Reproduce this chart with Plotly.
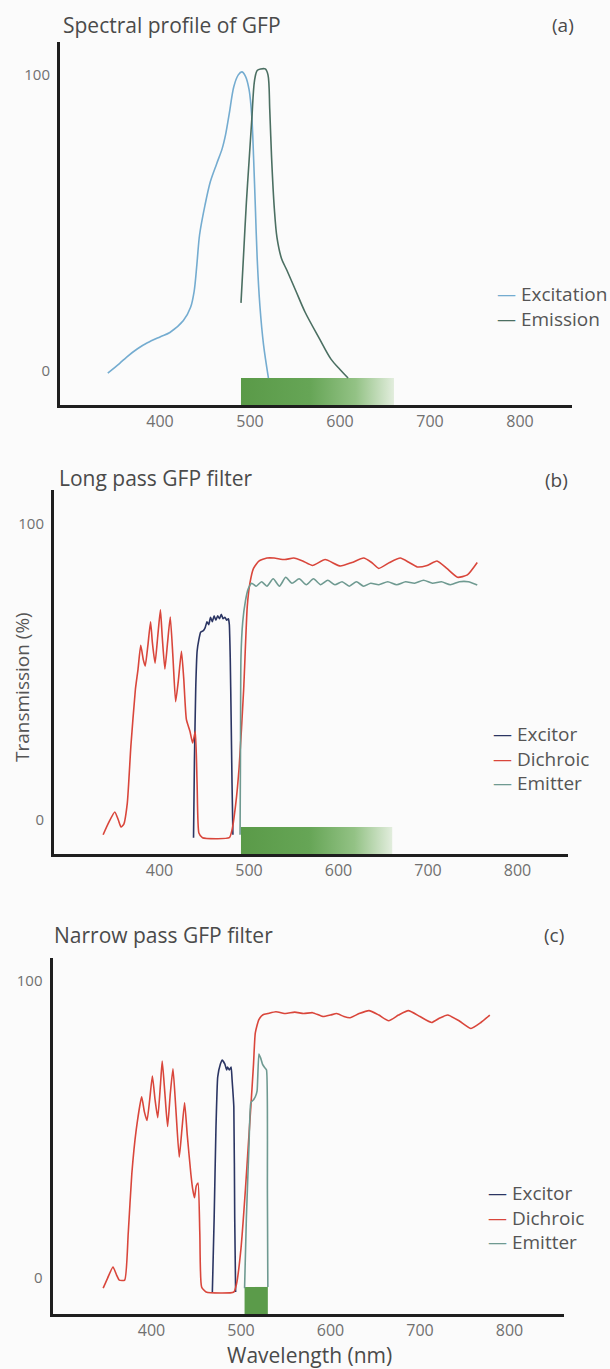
import plotly.graph_objects as go

W, H = 610, 1369

# ---------------- data ----------------
# (a) Spectral profile of GFP
exc_nm = [342, 355, 363, 375, 386, 400, 411, 426, 434, 438, 441, 444, 450, 456, 463, 469, 473, 477,
          482, 487, 491, 495, 499, 502, 504, 506, 508, 511, 515, 520.5]
exc_val = [-0.7, 2.5, 4.7, 7.5, 9.5, 11.5, 13, 17, 21.5, 27, 36, 46, 56, 64, 70, 75, 80, 87,
           96, 100, 101, 99.5, 95, 86, 72, 55, 38, 22, 9, -2.4]
emi_nm = [490, 493, 496, 499, 502, 505, 508, 512, 517, 520, 522, 524, 527, 530, 535, 541, 551,
          561, 577, 590, 600, 609]
emi_val = [23, 40, 57, 71, 85, 98, 101.5, 102, 102, 100, 88, 72, 55, 45, 38, 34, 27,
           20, 11, 4, 0.5, -2.4]
band_a = [490, 660]

# (b) Long pass GFP filter
exb_nm = [438, 439, 440.5, 442, 444, 446, 449, 451, 453, 455, 457, 459, 461, 463, 465, 467, 469,
          471, 473, 475, 477, 478, 479, 480, 481, 482]
exb_val = [-6, 20, 45, 57, 61, 63.5, 64, 65, 67, 66, 68.5, 67, 69, 67.5, 69, 68, 69.5,
           68, 68.5, 67.5, 68, 66, 55, 35, 12.5, -5]
dib_nm = [337, 343, 350, 354, 357, 360, 364, 368, 373, 376, 379, 382, 384, 387, 390, 392, 395,
          398, 401, 403, 406, 409, 412, 415, 418, 421, 424.5, 427, 430, 434, 437, 440, 442,
          444, 448, 478, 481, 485, 489, 494, 498, 501, 505, 511, 520, 528, 540, 550, 560, 571,
          585, 602, 615, 628, 637, 645, 657, 669, 679, 688, 699, 710, 721, 733, 744, 755]
dib_val = [-5, -1, 2.7, 0, -2.4, -1.5, 5.7, 25, 44, 51, 59, 54, 52, 59, 67, 60, 53,
           62, 71, 62, 51, 60, 68.6, 55, 40, 47, 57, 48, 34, 30, 26, 30, 12,
           -4.4, -6, -6, -3.4, 5, 18, 44, 72, 80, 85, 87.5, 88.5, 88.5, 88, 88.5, 87.5, 86,
           88, 85.8, 87, 88.5, 87, 85, 87, 88.5, 87, 85.5, 86, 87.5, 85, 82, 82.8, 87]
emb_nm = [490, 490.5, 491, 493, 496, 499, 503, 508, 514, 520, 527, 534, 541, 548, 556, 564, 572,
          580, 588, 596, 604, 612, 620, 628, 636, 645, 655, 665, 675, 685, 695, 705, 715, 725,
          735, 745, 755]
emb_val = [-5, 25, 55, 67, 74, 78, 80, 79, 80.5, 79, 81.5, 79, 82, 80, 81.5, 79.5, 81.5,
           79.5, 81, 79.5, 80.5, 79, 80.5, 79, 80, 79.5, 80.5, 79.5, 80.5, 80, 81, 80, 80.5, 79.5,
           80.5, 80.5, 79.4]
band_b = [491, 660]

# (c) Narrow pass GFP filter
exc_c_nm = [468, 470, 472, 474, 477, 479, 482, 484, 485, 487, 489, 490, 492, 493, 494]
exc_c_val = [-4.7, 20, 50, 67.7, 72, 73.4, 72, 70, 71, 70, 71, 67, 57.6, 20, -4.7]
dic_nm = [346, 351, 357, 361, 364, 370, 374, 378, 383, 389, 392, 395, 398, 401, 404, 407, 410,
          412, 415, 418, 421, 424, 427, 431, 434, 437, 440, 444, 446, 448, 450, 452, 454, 456,
          461, 492, 495, 500, 505, 508, 511, 514, 516, 520, 524.6, 530, 539, 550, 560, 570,
          580, 591.6, 600, 607, 615, 622, 632, 643, 654, 665, 676, 687, 700, 713, 722, 731,
          744, 757, 768, 778]
dic_val = [-3.4, 0, 3.7, 1, -0.7, -0.7, 15, 35, 50, 61, 56, 53, 60, 68, 60, 54, 65,
           73, 62, 51, 62, 70.4, 58, 40.7, 50, 59, 48, 35, 30, 27, 31, 32, 15, -3,
           -4.7, -4.7, -2, 10, 30, 44, 57.6, 72, 82.5, 87, 88.6, 89, 89.6, 89, 89.5, 89,
           89.3, 88, 88.5, 89, 88, 87.6, 89, 90, 88.5, 86.6, 88.5, 90, 88, 86, 87.5, 88.5,
           86.5, 84, 86, 88.5]
emc_nm = [504, 506, 509, 511, 514, 516, 518, 520, 522, 524, 526, 528.5, 529.5, 530]
emc_val = [-3.4, 20, 45, 59, 60, 61, 63, 75.4, 74, 72, 71, 70, 30, -3]
band_c = [504, 530]

x_ticks = [400, 500, 600, 700, 800]
y_ticks = [0, 100]

# ---------------- styles ----------------
C_EXC = "#74acd0"
C_EMI = "#4b6f62"
C_EXCITOR = "#2b3563"
C_DICH = "#d9463b"
C_EMIT = "#6f9a91"
AXIS = "#1e1e1e"
TXT = "#4a4a4a"
LEG_TXT = "#555555"
FONT = "Open Sans"

def px_x(p):
    return p / W

def px_y(p):
    return 1 - p / H

# panel geometry in pixels: (left, right), (top, bottom), data ranges
panels = {
    "a": dict(xd=(60, 572), yd=(42, 405), xr=(288.9, 857.8), yr=(-11.5, 111.1)),
    "b": dict(xd=(54, 568), yd=(490, 854), xr=(282.1, 856.4), yr=(-11.5, 111.5)),
    "c": dict(xd=(52.5, 564), yd=(958, 1314), xr=(289.4, 860.9), yr=(-12.1, 107.7)),
}
axes_ids = {"a": ("x", "y"), "b": ("x2", "y2"), "c": ("x3", "y3")}

fig = go.Figure()

def band_trace(band, top, panel, gradient):
    xa, ya = axes_ids[panel]
    bottom = panels[panel]["yr"][0]
    x0, x1 = band
    kw = dict(x=[x0, x1, x1, x0, x0], y=[bottom, bottom, top, top, bottom],
              mode="lines", line=dict(width=0), fill="toself",
              hoverinfo="skip", showlegend=False, xaxis=xa, yaxis=ya)
    if gradient:
        kw["fillgradient"] = dict(type="horizontal",
                                  colorscale=[[0, "#5a9a48"], [0.45, "#66a556"],
                                              [0.75, "#93c285"], [1, "#e2eddd"]])
    else:
        kw["fillcolor"] = "#5b9b4a"
    return go.Scatter(**kw)

fig.add_trace(band_trace(band_a, -2.4, "a", True))
fig.add_trace(band_trace(band_b, -2.4, "b", True))
fig.add_trace(band_trace(band_c, -3.0, "c", False))

series = [
    ("a", exc_nm, exc_val, "Excitation", C_EXC, 0.9),
    ("a", emi_nm, emi_val, "Emission", C_EMI, 0.9),
    ("b", exb_nm, exb_val, "Excitor", C_EXCITOR, 0.4),
    ("b", dib_nm, dib_val, "Dichroic", C_DICH, 0.5),
    ("b", emb_nm, emb_val, "Emitter", C_EMIT, 0.6),
    ("c", exc_c_nm, exc_c_val, "Excitor", C_EXCITOR, 0.4),
    ("c", dic_nm, dic_val, "Dichroic", C_DICH, 0.5),
    ("c", emc_nm, emc_val, "Emitter", C_EMIT, 0.4),
]
for panel, xs, ys, name, color, sm in series:
    xa, ya = axes_ids[panel]
    fig.add_trace(go.Scatter(x=xs, y=ys, name=name, mode="lines",
                             line=dict(color=color, width=1.6, shape="spline", smoothing=sm),
                             xaxis=xa, yaxis=ya, showlegend=False))

layout = dict(width=W, height=H, margin=dict(l=0, r=0, t=0, b=0),
              paper_bgcolor="#fbfbfb", plot_bgcolor="rgba(0,0,0,0)",
              font=dict(family=FONT, color=TXT), showlegend=False)

for i, key in enumerate(["a", "b", "c"]):
    p = panels[key]
    sfx = "" if i == 0 else str(i + 1)
    layout["xaxis" + sfx] = dict(
        domain=[px_x(p["xd"][0]), px_x(p["xd"][1])], range=list(p["xr"]),
        anchor="y" + sfx, showline=True, linecolor=AXIS, linewidth=3,
        showgrid=False, zeroline=False, ticks="", tickvals=x_ticks,
        ticklabelstandoff=0, tickfont=dict(size=16, color="#707070", family=FONT))
    layout["yaxis" + sfx] = dict(
        domain=[px_y(p["yd"][1]), px_y(p["yd"][0])], range=list(p["yr"]),
        anchor="x" + sfx, showline=True, linecolor=AXIS, linewidth=3,
        showgrid=False, zeroline=False, ticks="", tickvals=y_ticks,
        ticklabelstandoff=4, tickfont=dict(size=15, color="#707070", family=FONT))

fig.update_layout(**layout)

# legend keys: one multi-line block per panel (text x start, y centre of block)
legend_blocks = {
    "a": (519, 307),
    "b": (515, 758),
    "c": (510, 1217),
}
for panel, (tx, yc) in legend_blocks.items():
    items = [(name, color) for p_, _, _, name, color, _ in series if p_ == panel]
    text = "<br>".join(f"<span style='color:{color}'>—</span> {name}" for name, color in items)
    fig.add_annotation(text=text, align="left",
                       x=px_x(tx - 24), y=px_y(yc), xref="paper", yref="paper",
                       xanchor="left", yanchor="middle", showarrow=False,
                       font=dict(size=19, color=LEG_TXT, family=FONT))

annots = [
    ("Spectral profile of GFP", 61, 25, "left", 21),
    ("(a)", 563, 25, "center", 19),
    ("Long pass GFP filter", 57, 478, "left", 21),
    ("(b)", 556, 480, "center", 19),
    ("Narrow pass GFP filter", 52, 935, "left", 21),
    ("(c)", 554, 935, "center", 19),
    ("Wavelength (nm)", 309, 1355, "center", 21),
]
for text, ax_, ay_, anchor, size in annots:
    fig.add_annotation(text=text, x=px_x(ax_), y=px_y(ay_), xref="paper", yref="paper",
                       xanchor=anchor, yanchor="middle", showarrow=False,
                       font=dict(size=size, color=TXT, family=FONT))
fig.add_annotation(text="Transmission (%)", x=px_x(22), y=px_y(687), xref="paper", yref="paper",
                   xanchor="center", yanchor="middle", textangle=-90, showarrow=False,
                   font=dict(size=19, color=LEG_TXT, family=FONT))

fig.write_html("out.html", config={"displayModeBar": False},
               post_script="document.body.style.margin='0px';")
